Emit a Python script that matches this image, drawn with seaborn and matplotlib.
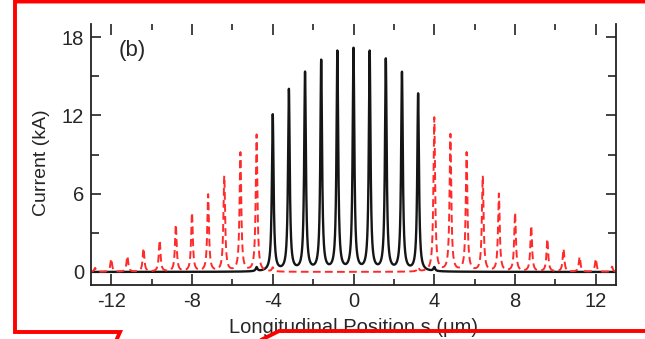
import numpy as np
import pandas as pd
import matplotlib
matplotlib.use("Agg")
import matplotlib.pyplot as plt
from matplotlib.lines import Line2D
from matplotlib.ticker import MultipleLocator
import seaborn as sns

# ---- data ----
# black (solid) current spikes: positions (um) and peak currents (kA)
black_pos = [-4.8, -4.0, -3.2, -2.4, -1.6, -0.8, 0.0, 0.8, 1.6, 2.4, 3.2, 4.0]
black_peak = [0.3, 12.0, 13.9, 15.2, 16.1, 16.8, 17.0, 16.8, 16.2, 15.2, 13.6, 0.3]
# red (dashed) current spikes
red_pos = [-12.8, -12.0, -11.2, -10.4, -9.6, -8.8, -8.0, -7.2, -6.4, -5.6, -4.8, -4.0,
           3.2, 4.0, 4.8, 5.6, 6.4, 7.2, 8.0, 8.8, 9.6, 10.4, 11.2, 12.0, 12.8]
red_peak = [0.3, 1.0, 1.2, 1.8, 2.4, 3.6, 4.5, 5.9, 7.3, 9.1, 10.5, 0.3,
            0.3, 11.8, 10.5, 9.1, 7.3, 5.95, 4.5, 3.5, 2.5, 1.75, 1.15, 1.0, 0.4]
x_ticks = [-12, -8, -4, 0, 4, 8, 12]
y_ticks = [0, 6, 12, 18]

SPIKE_WIDTH = 0.05  # um, half width of each spike


def profile(s, pos, peak):
    out = np.zeros_like(s)
    for p, h in zip(pos, peak):
        out += h / (1.0 + ((s - p) / SPIKE_WIDTH) ** 2)
    return out


s = np.linspace(-13.2, 13.2, 8001)
df_black = pd.DataFrame({"s": s, "I": profile(s, black_pos, black_peak)})
df_red = pd.DataFrame({"s": s, "I": profile(s, red_pos, red_peak)})

sns.set_style("ticks")
plt.rcParams["font.family"] = ["Liberation Sans", "DejaVu Sans"]

fig = plt.figure(figsize=(6.45, 3.39), dpi=100)
ax = fig.add_axes([91 / 645, 1 - 285 / 339, 525 / 645, 261 / 339])

sns.lineplot(data=df_black, x="s", y="I", ax=ax, color="#151515", lw=1.7,
             estimator=None, sort=False)
sns.lineplot(data=df_red, x="s", y="I", ax=ax, color="#ff2a2a", lw=1.4,
             linestyle=(0, (4, 2.2)), estimator=None, sort=False)

ax.set_xlim(-13, 13)
ax.set_ylim(-1, 19)
ax.set_xticks(x_ticks)
ax.set_yticks(y_ticks)
ax.set_xticklabels([str(v) for v in x_ticks])
ax.set_yticklabels([str(v) for v in y_ticks])
ax.xaxis.set_minor_locator(MultipleLocator(2))
ax.yaxis.set_minor_locator(MultipleLocator(3))

for sp in ax.spines.values():
    sp.set_color("#222222")
    sp.set_linewidth(1.3)
ax.spines["top"].set_visible(False)

ax.tick_params(axis="x", which="major", direction="in", length=8, width=1.2,
               top=True, bottom=True, labelsize=14.5, pad=5, color="#222222")
ax.tick_params(axis="x", which="minor", direction="in", length=4, width=1.2,
               top=True, bottom=True, color="#222222")
ax.tick_params(axis="y", which="major", direction="in", length=7, width=1.2,
               left=True, right=True, labelsize=14.5, pad=5, color="#222222")
ax.tick_params(axis="y", which="minor", direction="in", length=6, width=1.2,
               left=True, right=True, color="#222222")

ax.set_xlabel("Longitudinal Position s (\u03bcm)", fontsize=14.5, labelpad=5)
ax.set_ylabel("Current (kA)", fontsize=14)
ax.yaxis.set_label_coords(-0.078, 0.47)
ax.text(-11.65, 17.0, "(b)", fontsize=16, ha="left", va="center")

# red annotation frame around the panel
red_kw = dict(transform=fig.transFigure, color="#ff0000", lw=2.8,
              solid_joinstyle="miter", clip_on=False)
fx = lambda px: px / 645
fy = lambda py: 1 - py / 339
fig.add_artist(Line2D([fx(650), fx(15), fx(15), fx(120), fx(116)],
                      [fy(1.5), fy(1.5), fy(332), fy(332), fy(341)], **red_kw))
fig.add_artist(Line2D([fx(259), fx(279), fx(650)],
                      [fy(341), fy(331), fy(331)], **red_kw))

fig.savefig("out.png", dpi=100)
